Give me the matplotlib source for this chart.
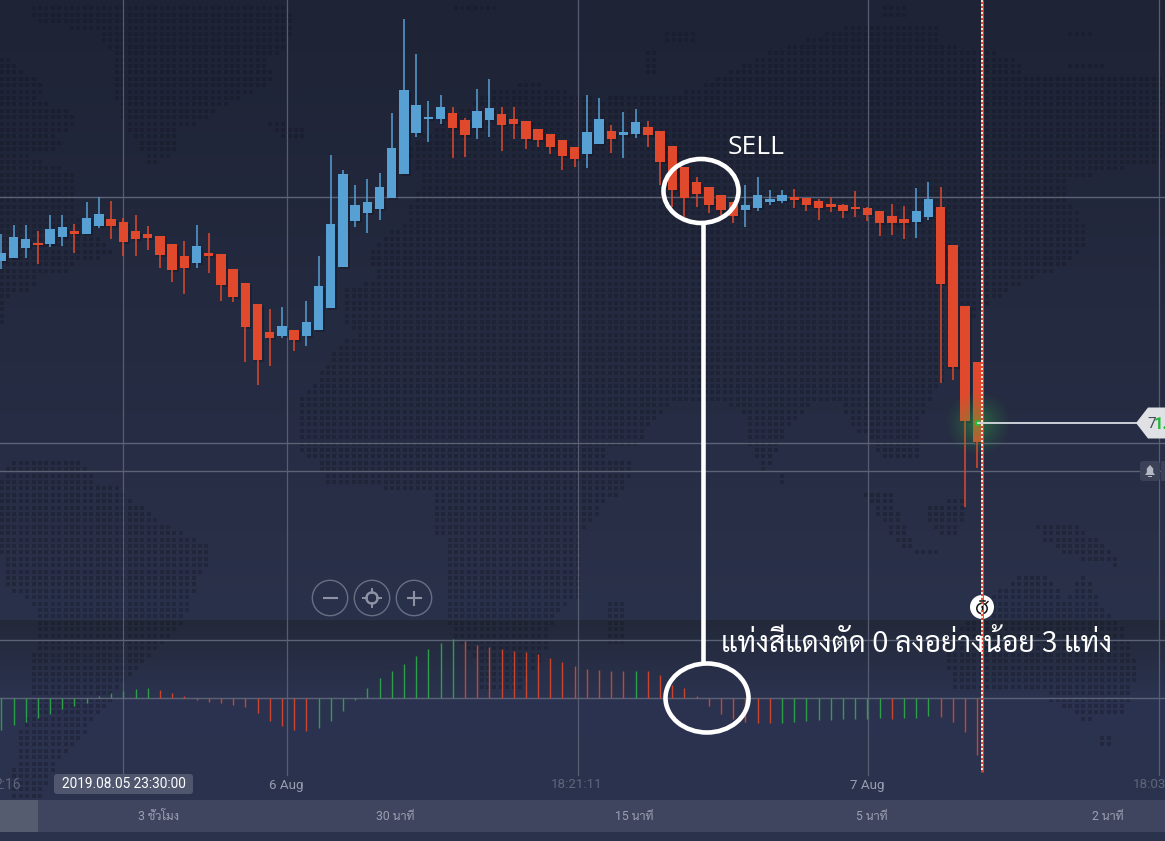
import matplotlib
matplotlib.use("Agg")
import matplotlib.pyplot as plt
import matplotlib.patheffects as pe
from matplotlib.patches import Circle, Ellipse, FancyBboxPatch, Polygon, Rectangle
from matplotlib.path import Path
import numpy as np

W, H = 1165, 841

# candle values, chart units
opens = [579.7, 583, 593, 598, 596.7, 603.7, 609.7, 607.3, 614.7, 621.7, 619, 609.7, 606.7, 605.3, 596.7, 584.7, 578.3,
         587.7, 587, 572, 558.3, 536.7, 509.3, 505.3, 511, 505.3, 511.3, 532.7, 574.3, 620.3, 627.7, 632.3, 642.7, 667.3,
         708.3, 721.7, 722, 728.3, 721, 713.3, 721, 727.3, 722, 719.7, 711.7, 707, 701, 693.7, 687.3, 697.3, 710.3, 706,
         707, 713.7, 710, 695, 673.7, 659, 653.7, 645.7, 638.7, 631.3, 633.3, 639, 640.3, 643.7, 643, 639.7, 637, 635.7,
         633.7, 633.3, 630.3, 624.7, 621.7, 619.3, 623.7, 633.7, 595.7, 535.3, 478.7]
highs = [607, 616, 616, 610, 626, 626.3, 617.3, 639, 643.7, 640, 623.3, 625.7, 615, 605.3, 596.7, 600, 616, 608, 587, 572,
         558.3, 536.7, 531.7, 533.7, 511, 539.7, 585, 686, 671, 656, 662.3, 668.3, 728.3, 822, 786.7, 739.7, 746, 734.3,
         722.7, 751.7, 761.7, 734, 733.7, 719.7, 711.7, 707, 701, 693.7, 746, 743.3, 716, 729.3, 731.7, 720.3, 710, 695,
         673.7, 664.3, 653.7, 645.7, 638.7, 656, 663.7, 651, 651, 652.3, 643, 641.7, 643.7, 637, 649.7, 634.3, 630.3, 637,
         635, 652.7, 659.3, 653.7, 595.7, 535.3, 478.7]
lows = [571.7, 583, 582.7, 577.3, 594, 595, 588.3, 607.3, 613.3, 602.3, 585, 585, 591.3, 573.3, 559.3, 547.3, 573.3, 567.7,
        540.3, 539.3, 479, 456, 474.7, 502.7, 490.3, 495, 511.3, 532.7, 574.3, 614.3, 607.7, 621.3, 642.7, 667.3, 704.3,
        699.3, 717, 683, 684.3, 702, 704.3, 690, 702, 691.7, 694.3, 687, 671.3, 674.3, 673.3, 697.3, 688.3, 683.3, 703,
        693.7, 656, 634.3, 624.3, 634.3, 628.3, 626, 617.7, 614.3, 630.3, 636, 638.3, 632.7, 629.7, 621.3, 628.7, 623.3,
        624.3, 620, 605.3, 606, 602, 603.3, 621, 458, 461, 334.3, 372.7]
closes = [587.7, 604.3, 602, 596, 612, 614.3, 607, 623, 627.3, 615.3, 599, 602, 603.3, 586.3, 571.3, 573.3, 595, 585.3,
          555.7, 544, 514.3, 481, 502.7, 515, 501, 518.7, 554.7, 617.3, 667.3, 636.3, 638.7, 654, 692.7, 750.7, 736,
          723.3, 733.7, 713.3, 706.3, 730, 732.7, 716, 716.7, 702.3, 701.3, 694.3, 685.3, 682, 709, 721.7, 702.3, 709,
          719, 705.7, 679, 651.3, 643.3, 647.3, 636, 631, 625, 636.3, 646, 642, 645.7, 641.3, 635.7, 633.3, 634.3, 630.3,
          632.3, 626.3, 618, 618.3, 618.3, 629.7, 642, 557, 474, 420.3, 399]

# oscillator below the price panel
hist_values = [-32, -27.3, -23.7, -20, -16, -11.3, -8.3, -5, 2.3, 5, 7, 8.7, 9.7, 8.3, 5, 2.3, -2.3, -3.7, -5, -7, -9.3,
               -15.3, -22.7, -28, -31.7, -33.3, -30.3, -23, -13.3, -2.3, 10.3, 19.7, 27, 33.7, 41.7, 49.3, 55.3, 59.3,
               56.7, 52.7, 50.7, 48.7, 47, 46.3, 44, 39.7, 35.7, 31.7, 28.7, 27.7, 27, 26.7, 27.3, 26.7, 22.7, 13, 9.7,
               2.3, -8.3, -16, -21.3, -24, -25.3, -25.3, -25, -23.7, -22.7, -22.3, -22, -21.3, -21, -20.7, -20.3, -20.7,
               -20.3, -19.7, -18.3, -19, -24, -34.3, -57]
hist_up = [1, 1, 1, 1, 1, 1, 1, 1, 1, 1, 1, 1, 1, 0, 0, 0, 0, 0, 0, 0, 0, 0, 0, 0, 0, 0, 1, 1, 1, 1, 1, 1, 1, 1, 1, 1, 1, 1,
           0, 0, 0, 0, 0, 0, 0, 0, 0, 0, 0, 0, 0, 0, 1, 0, 0, 0, 0, 0, 0, 0, 0, 0, 0, 0, 1, 1, 1, 1, 1, 1, 1, 1, 1, 0, 1, 1,
           1, 0, 0, 0, 0]

period_labels = ["3 ชั่วโมง", "30 นาที", "15 นาที", "5 นาที", "2 นาที"]
time_labels = ["6 Aug", "18:21:11", "7 Aug"]
note_text = "แท่งสีแดงตัด 0 ลงอย่างน้อย 3 แท่ง"

BLUE = "#56a0d3"
RED = "#e0492c"
THAI = ["Roboto", "Sarabun", "IBM Plex Sans Thai", "DejaVu Sans"]

CANDLE_STEP = 12.2
CANDLE_X0 = 1.3

# rough outline of the dotted world map behind the chart
land = [
    [(23, 2), (275, 2), (295, 17), (287, 50), (264, 63), (276, 77), (260, 90), (230, 103), (210, 117), (180, 130),
     (172, 160), (149, 163), (130, 133), (119, 113), (115, 87), (111, 50), (96, 30), (42, 25), (34, 17)],
    [(0, 53), (12, 63), (38, 80), (46, 90), (38, 100), (61, 107), (77, 117), (69, 133), (57, 137), (65, 147), (50, 150),
     (23, 153), (38, 160), (73, 173), (77, 193), (77, 213), (92, 233), (115, 253), (69, 267), (69, 273), (34, 277),
     (33, 293), (8, 297), (0, 333)],
    [(268, 120), (306, 127), (306, 137), (278, 137)],
    [(406, 147), (497, 87), (536, 83), (600, 100), (622, 93), (672, 97), (719, 77), (755, 57), (813, 37), (845, 27),
     (942, 23), (939, 43), (1018, 57), (1022, 73), (1165, 73), (1165, 150), (1155, 163), (1068, 180), (1068, 200),
     (1083, 220), (1090, 237), (1065, 267), (1023, 283), (990, 303), (963, 330), (950, 370), (930, 400), (302, 400),
     (302, 397), (318, 377), (337, 350), (356, 333), (341, 320), (344, 287), (379, 280), (367, 253), (383, 240),
     (406, 220), (421, 180)],
    [(302, 400), (675, 400), (655, 420), (645, 435), (632, 447), (604, 450), (600, 513), (578, 540), (582, 567),
     (578, 597), (555, 617), (547, 647), (536, 667), (517, 693), (478, 693), (478, 660), (455, 640), (452, 627),
     (444, 617), (448, 577), (448, 543), (432, 530), (432, 493), (325, 483), (318, 463), (302, 453)],
    [(600, 460), (632, 460), (632, 470), (625, 487), (611, 500), (600, 503)],
    [(724, 400), (812, 400), (798, 420), (780, 440), (773, 463), (762, 470), (744, 433), (744, 417)],
    [(777, 475), (786, 475), (786, 483), (777, 483)],
    [(838, 400), (932, 400), (917, 420), (921, 457), (906, 463), (881, 457), (870, 437), (852, 427)],
    [(859, 490), (892, 490), (899, 517), (917, 547), (942, 553), (917, 557), (895, 540), (877, 513)],
    [(924, 507), (960, 497), (964, 507), (964, 517), (957, 537), (946, 537), (928, 523)],
    [(996, 593), (1025, 573), (1054, 580), (1065, 600), (1083, 573), (1094, 590), (1105, 610), (1119, 620), (1133, 650),
     (1137, 677), (1130, 697), (1123, 713), (1083, 720), (1050, 700), (1043, 690), (996, 687), (953, 687), (946, 657),
     (950, 633), (978, 617)],
    [(1101, 737), (1112, 737), (1112, 747), (1101, 747)],
    [(1036, 523), (1079, 527), (1094, 537), (1112, 550), (1122, 570), (1108, 563), (1068, 557), (1040, 537)],
    [(603, 600), (627, 600), (627, 643), (605, 643)],
    [(10, 462), (84, 462), (96, 482), (122, 488), (134, 500), (161, 522), (191, 535), (210, 547), (210, 563), (199, 577),
     (191, 600), (184, 620), (172, 633), (142, 667), (130, 677), (100, 713), (73, 747), (57, 760), (50, 777), (38, 800),
     (11, 797), (8, 773), (19, 757), (19, 733), (27, 717), (29, 680), (34, 647), (34, 607), (8, 587), (0, 547), (0, 480)],
    [(1065, 28), (1094, 28), (1094, 37), (1065, 37)],
    [(1105, 35), (1123, 35), (1123, 39), (1105, 39)],
    [(1068, 62), (1105, 62), (1105, 66), (1068, 66)],
    [(647, 50), (658, 50), (658, 77), (647, 77)],
    [(661, 30), (697, 30), (697, 43), (661, 43)],
    [(881, 2), (910, 2), (910, 17), (881, 17)],
    [(455, 2), (498, 2), (498, 13), (455, 13)],
]


def full_axes(fig, zorder):
    ax = fig.add_axes([0, 0, 1, 1], zorder=zorder)
    ax.set_axis_off()
    ax.patch.set_alpha(0)
    return ax


def hex_rgb(c):
    return np.array(matplotlib.colors.to_rgb(c))


fig = plt.figure(figsize=(W / 100, H / 100), dpi=100)

# --- background layer, pixel coordinates ---
bg = full_axes(fig, 0)
ys = np.arange(H)
stops_y = [0, 619, 620, 700, 841]
stops = np.array([hex_rgb(c) for c in ["#1e2335", "#2a314a", "#232939", "#2b3350", "#2b324c"]])
grad = np.stack([np.interp(ys, stops_y, stops[:, k]) for k in range(3)], axis=1)[:, None, :]
bg.imshow(grad, extent=(0, W, H, 0), aspect="auto", interpolation="nearest")

gx, gy = np.meshgrid(np.arange(1.5, W, 6.4), np.arange(2.0, 810, 6.4))
pts = np.column_stack([gx.ravel(), gy.ravel()])
inside = np.zeros(len(pts), dtype=bool)
for poly in land:
    inside |= Path(poly + [poly[0]]).contains_points(pts)
bg.scatter(pts[inside, 0], pts[inside, 1], s=8.5, marker="s", c="#11141f", alpha=0.3, linewidths=0)

GRID = "#575c70"
for vx in [123, 286.5, 577.5, 868, 1159]:
    bg.plot([vx, vx], [0, 775], color=GRID, lw=0.9)
for hy in [197, 443, 471, 640, 698]:
    bg.plot([0, W], [hy, hy], color="#5d6377", lw=1.0)

# period strip and time labels
bg.add_patch(Rectangle((0, 800), W, 32, fc="#3f455e", ec="none"))
bg.add_patch(Rectangle((0, 800), 38, 32, fc="#565c6f", ec="none"))
bg.set_xlim(0, W)
bg.set_ylim(H, 0)

# --- price candles, chart units ---
ax = full_axes(fig, 1)
x = np.arange(len(opens))
up = np.array(closes) >= np.array(opens)
colors = np.where(up, BLUE, RED)
ax.vlines(x, lows, highs, colors=colors, lw=1.1)
body = np.abs(np.array(closes) - np.array(opens))
bars = ax.bar(x, np.maximum(body, 2.0), bottom=np.minimum(opens, closes), width=9.4 / CANDLE_STEP, color=colors,
              linewidth=0)
for b in bars:
    b.set_path_effects([pe.SimplePatchShadow(offset=(1.5, -1.5), shadow_rgbFace="#0d101a", alpha=0.3), pe.Normal()])
ax.set_xlim(-CANDLE_X0 / CANDLE_STEP, (W - CANDLE_X0) / CANDLE_STEP)
ax.set_ylim(0, H)

# --- oscillator, one unit per pixel around the zero line ---
ax2 = full_axes(fig, 1.5)
hist_colors = ["#2f9e48" if u else "#c9452e" for u in hist_up]
ax2.vlines(x, 0, hist_values, colors=hist_colors, lw=1.0)
ax2.set_xlim(ax.get_xlim())
ax2.set_ylim(698 - H, 698)

# --- overlay, pixel coordinates ---
top = full_axes(fig, 3)

# green glow on the current price
yy, xx = np.mgrid[383:464, 937:1018]
rr = np.hypot(xx - 977.5, yy - 423) / 34
glow = np.zeros(rr.shape + (4,))
glow[..., :3] = hex_rgb("#2fae3f")
glow[..., 3] = np.clip(1 - rr, 0, 1) ** 1.3 * 0.5
top.imshow(glow, extent=(937, 1018, 464, 383), aspect="auto", interpolation="bilinear")

# current time marker
top.plot([982, 982], [0, 772], color=RED, lw=2.0, solid_capstyle="butt")
top.plot([982, 982], [0, 772], color="white", lw=1.2, ls=(0, (1.2, 1.2)))
top.add_patch(Circle((982, 607), 12, fc="white", ec="none"))
top.add_patch(Circle((982, 608.5), 5.2, fc="none", ec="#111111", lw=1.1))
top.plot([982, 982], [608.5, 606], color="#111111", lw=0.9)
top.plot([979.5, 984.5], [601, 601], color="#111111", lw=1.1)
top.plot([986, 988], [603.5, 601.5], color="#111111", lw=1.0)

# price tag
top.plot([977.5, 1136], [423, 423], color="#d9dce2", lw=1.3)
top.add_patch(Circle((977.5, 423), 2.8, fc="#22c03a", ec="none"))
top.add_patch(Polygon([(1136, 423), (1148, 407.5), (1166, 407.5), (1166, 438.5), (1148, 438.5)], fc="#dfe1e5",
                      ec="none"))
top.text(1147.5, 424, "7", color="#4a4d57", fontsize=11, family="Roboto", va="center", ha="left")
top.text(1154, 424, "1.", color="#22b83a", fontsize=12, family="Roboto", weight="bold", va="center", ha="left",
         clip_on=True)

# alert button
top.add_patch(FancyBboxPatch((1140, 461), 20, 20, boxstyle="round,pad=0,rounding_size=3", fc="#3b4258", ec="none"))
top.add_patch(Rectangle((1161, 461), 5, 20, fc="#3b4258", ec="none"))
top.add_patch(Polygon([(1145, 475), (1146.8, 472.5), (1146.8, 468.5), (1150, 465), (1153.2, 468.5), (1153.2, 472.5),
                       (1155, 475)], fc="#b4b8c4", ec="none"))
top.add_patch(Rectangle((1148, 475.6), 4, 1.8, fc="#b4b8c4", ec="none"))

# zoom buttons
for cx in [330, 372, 414]:
    top.add_patch(Circle((cx, 598), 17.7, fc="none", ec="#696f83", lw=1.0))
BTN = "#8d93a4"
top.plot([323.5, 336.5], [598, 598], color=BTN, lw=1.5)
top.plot([407.5, 420.5], [598, 598], color=BTN, lw=1.5)
top.plot([414, 414], [591.5, 604.5], color=BTN, lw=1.5)
top.add_patch(Circle((372, 598), 5.6, fc="none", ec=BTN, lw=1.7))
top.plot([372, 372], [589, 593], color=BTN, lw=1.4)
top.plot([372, 372], [603, 607], color=BTN, lw=1.4)
top.plot([363, 367], [598, 598], color=BTN, lw=1.4)
top.plot([377, 381], [598, 598], color=BTN, lw=1.4)

# axis texts
MUTED = "#9a9fb0"
DIM = "#5f667b"
top.text(21, 785, "2:16", color=DIM, fontsize=10, family="Roboto", ha="right", va="center", clip_on=True)
top.add_patch(FancyBboxPatch((54, 774), 139, 20, boxstyle="round,pad=0,rounding_size=3", fc="#50566e", ec="none"))
top.text(123.5, 784.5, "2019.08.05 23:30:00", color="white", fontsize=9.8, family="Roboto", ha="center", va="center")
for cx, label, col in zip([286, 577, 867], time_labels, [MUTED, DIM, MUTED]):
    top.text(cx, 785, label, color=col, fontsize=9.6, family="Roboto", ha="center", va="center")
top.text(1133, 785, "18:03", color=DIM, fontsize=9.6, family="Roboto", ha="left", va="center", clip_on=True)
for cx, label in zip([158, 395, 634, 872, 1108], period_labels):
    top.text(cx, 816, label, color=MUTED, fontsize=8.8, family=THAI, ha="center", va="center")

# hand drawn notes
top.add_patch(Ellipse((701, 191), 75, 64, fc="none", ec="white", lw=3.3))
top.add_patch(Ellipse((707, 698), 83, 69, fc="none", ec="white", lw=3.3))
top.plot([702.5, 702.5], [223, 664], color="white", lw=3.3, solid_capstyle="butt")
top.text(756, 147, "SELL", color="white", fontsize=19, family="Open Sans", ha="center", va="center")
top.text(916.5, 645, note_text, color="white", fontsize=20.4, family=["Sarabun", "IBM Plex Sans Thai", "DejaVu Sans"],
         ha="center", va="center")

top.set_xlim(0, W)
top.set_ylim(H, 0)

fig.savefig("out.png", dpi=100, facecolor="#1e2335")
